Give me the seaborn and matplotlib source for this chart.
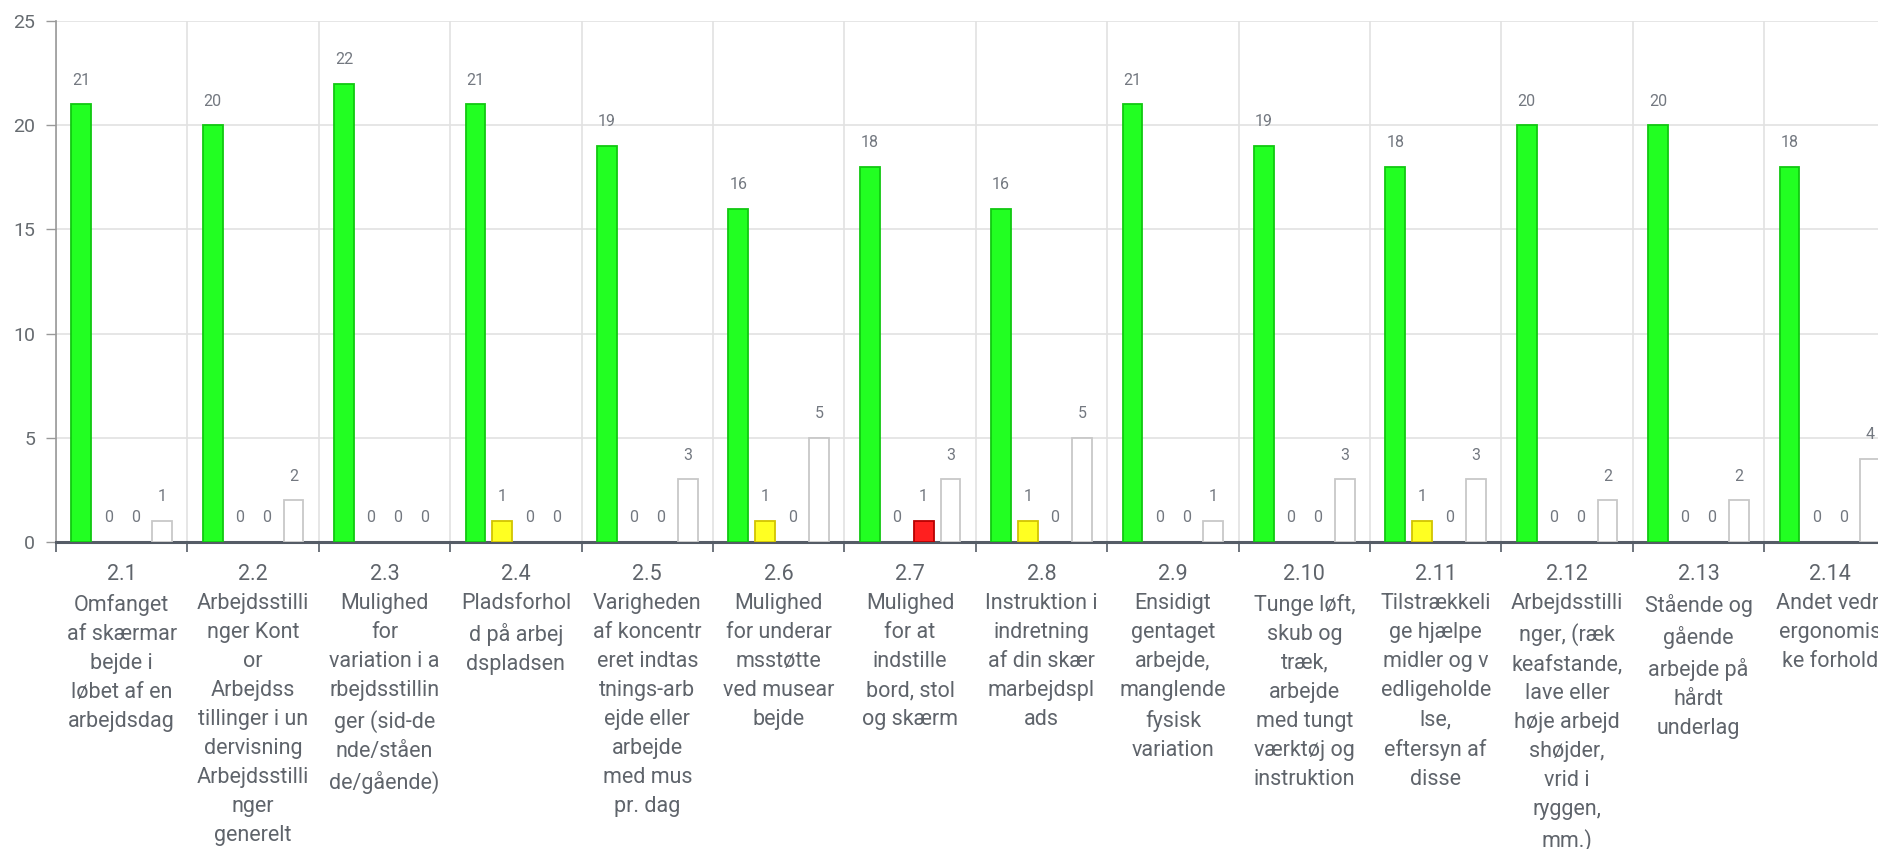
"""Grouped bar chart: answers per ergonomics question (2.1 - 2.14)."""

import matplotlib
matplotlib.use("Agg")
import matplotlib.pyplot as plt
import pandas as pd
import seaborn as sns

# --- data ---
questions = [
    "2.1\nOmfanget\naf skærmar\nbejde i\nløbet af en\narbejdsdag",
    "2.2\nArbejdsstilli\nnger Kont\nor\nArbejdss\ntillinger i un\ndervisning\nArbejdsstilli\nnger\ngenerelt",
    "2.3\nMulighed\nfor\nvariation i a\nrbejdsstillin\nger (sid-de\nnde/ståen\nde/gående)",
    "2.4\nPladsforhol\nd på arbej\ndspladsen",
    "2.5\nVarigheden\naf koncentr\neret indtas\ntnings-arb\nejde eller\narbejde\nmed mus\npr. dag",
    "2.6\nMulighed\nfor underar\nmsstøtte\nved musear\nbejde",
    "2.7\nMulighed\nfor at\nindstille\nbord, stol\nog skærm",
    "2.8\nInstruktion i\nindretning\naf din skær\nmarbejdspl\nads",
    "2.9\nEnsidigt\ngentaget\narbejde,\nmanglende\nfysisk\nvariation",
    "2.10\nTunge løft,\nskub og\ntræk,\narbejde\nmed tungt\nværktøj og\ninstruktion",
    "2.11\nTilstrækkeli\nge hjælpe\nmidler og v\nedligeholde\nlse,\neftersyn af\ndisse",
    "2.12\nArbejdsstilli\nnger, (ræk\nkeafstande,\nlave eller\nhøje arbejd\nshøjder,\nvrid i\nryggen,\nmm.)",
    "2.13\nStående og\ngående\narbejde på\nhårdt\nunderlag",
    "2.14\nAndet vedr.\nergonomis\nke forhold",
]
green = [21, 20, 22, 21, 19, 16, 18, 16, 21, 19, 18, 20, 20, 18]
yellow = [0, 0, 0, 1, 0, 1, 0, 1, 0, 0, 1, 0, 0, 0]
red = [0, 0, 0, 0, 0, 0, 1, 0, 0, 0, 0, 0, 0, 0]
white = [1, 2, 0, 0, 3, 5, 3, 5, 1, 3, 3, 2, 2, 4]

series_names = ["green", "yellow", "red", "white"]
face_colors = {"green": "#22ff22", "yellow": "#ffff22", "red": "#ff1f1f", "white": "#ffffff"}
edge_colors = {"green": "#11c811", "yellow": "#d2c400", "red": "#b80000", "white": "#c8c8c8"}

df = pd.DataFrame({
    "question": questions * 4,
    "count": green + yellow + red + white,
    "series": [s for s in series_names for _ in questions],
})

sns.set_style("white")
plt.rcParams["font.family"] = ["Roboto", "DejaVu Sans"]

fig = plt.figure(figsize=(18.78, 8.49), dpi=100)
ax = fig.add_axes([56 / 1878, 307 / 849, 14 * 131.4 / 1878, 521 / 849])

sns.barplot(
    data=df, x="question", y="count", hue="series", hue_order=series_names,
    palette=face_colors, saturation=1, width=0.82, gap=0.26, legend=False,
    ax=ax, linewidth=1.3, zorder=3,
)

for name, cont in zip(series_names, ax.containers):
    for patch in cont:
        patch.set_edgecolor(edge_colors[name])
        patch.set_zorder(3)
        if patch.get_height() == 0:
            patch.set_linewidth(0)
    ax.bar_label(cont, padding=12, fontsize=11.5, color="#737880")

ax.set_xlim(-0.5, len(questions) - 0.5)
ax.set_ylim(0, 25)
ax.set_yticks([0, 5, 10, 15, 20, 25])
ax.set_xlabel("")
ax.set_ylabel("")

# category labels at centres, tick marks + vertical grid at boundaries
ax.tick_params(axis="x", which="major", length=0, pad=16, labelsize=15.5, labelcolor="#5f646b")
for lab in ax.get_xticklabels():
    lab.set_linespacing(1.5)
    lab.set_va("top")
ax.set_xticks([i - 0.5 for i in range(len(questions) + 1)], minor=True)
ax.tick_params(axis="x", which="minor", length=7, width=1.2, color="#555c66", bottom=True)
ax.tick_params(axis="y", length=7, width=1, color="#999999", left=True,
               labelsize=14, labelcolor="#666b70", pad=8)

ax.grid(axis="y", which="major", color="#e2e2e2", linewidth=1.2)
ax.grid(axis="x", which="minor", color="#e2e2e2", linewidth=1.2)
ax.grid(axis="x", which="major", visible=False)
ax.set_axisbelow(True)

for side in ["top", "right"]:
    ax.spines[side].set_visible(False)
ax.spines["left"].set_color("#999999")
ax.spines["left"].set_linewidth(1.2)
ax.spines["bottom"].set_color("#555c66")
ax.spines["bottom"].set_linewidth(2.2)

fig.savefig("out.png", dpi=100)
